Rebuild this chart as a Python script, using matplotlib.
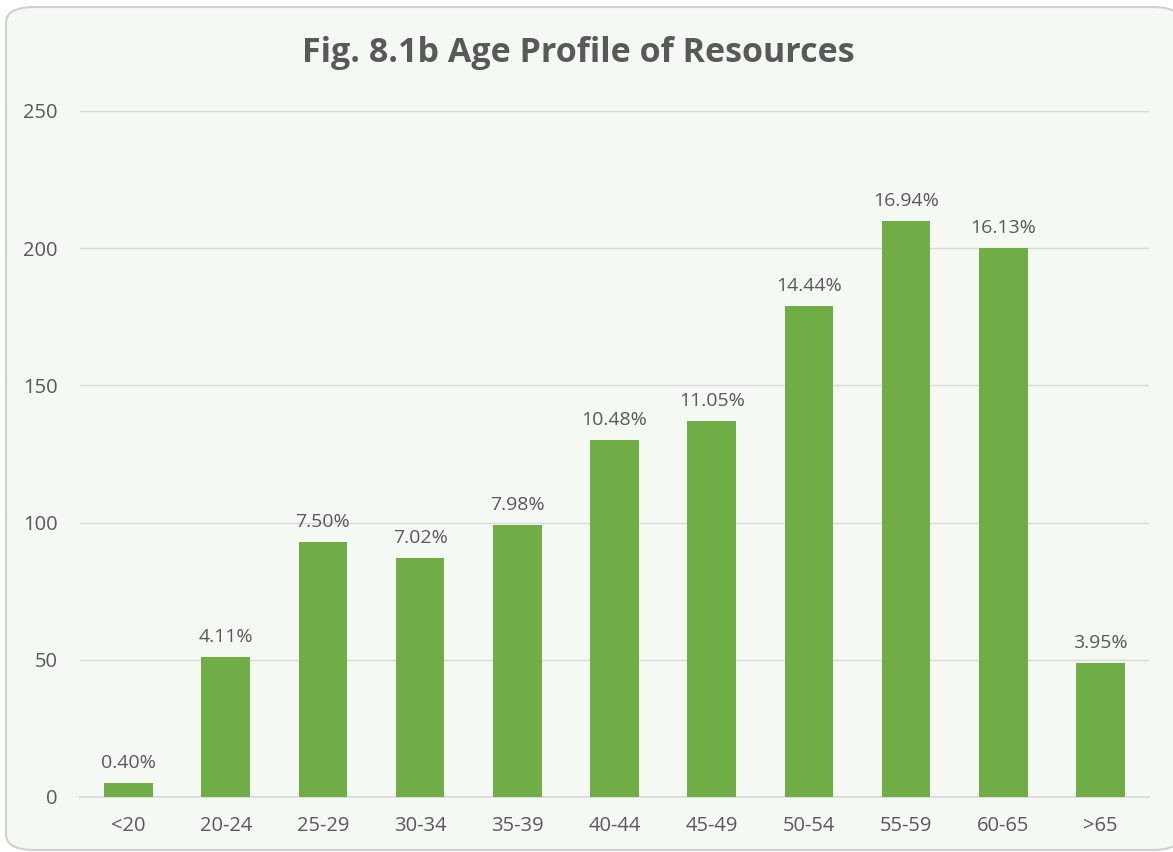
import matplotlib.pyplot as plt
from matplotlib.patches import FancyBboxPatch
import numpy as np

plt.rcParams['font.family'] = ['Open Sans', 'DejaVu Sans']

age_groups = ['<20', '20-24', '25-29', '30-34', '35-39', '40-44', '45-49',
              '50-54', '55-59', '60-65', '>65']
counts = [5, 51, 93, 87, 99, 130, 137, 179, 210, 200, 49]
pct_labels = ['0.40%', '4.11%', '7.50%', '7.02%', '7.98%', '10.48%', '11.05%',
              '14.44%', '16.94%', '16.13%', '3.95%']
yticks = [0, 50, 100, 150, 200, 250]

bg = '#F4F9F3'
green = '#70AD47'
text_col = '#595959'

fig = plt.figure(figsize=(11.73, 8.52), dpi=100)
fig.patch.set_facecolor('white')

# rounded chart frame
frame = FancyBboxPatch((6 / 1173, 2 / 852), 1175 / 1173, 843 / 852,
                       boxstyle='round,pad=0,rounding_size=0.025',
                       transform=fig.transFigure, facecolor=bg,
                       edgecolor='#D0D0D0', linewidth=1.5,
                       mutation_aspect=852 / 1173, zorder=-5)
fig.patches.append(frame)

ax = fig.add_axes([80 / 1173, 1 - 797 / 852, 1069 / 1173, 686 / 852])
ax.set_facecolor('none')
ax.set_zorder(2)

x = np.arange(len(age_groups))
bars = ax.bar(x, counts, width=0.5, color=green, zorder=3)

for xi, c, lab in zip(x, counts, pct_labels):
    ax.text(xi, c + 4, lab, ha='center', va='bottom', fontsize=14, color=text_col)

ax.set_xlim(-0.5, len(age_groups) - 0.5)
ax.set_ylim(0, 250)
ax.set_yticks(yticks)
ax.set_xticks(x)
ax.set_xticklabels(age_groups)
ax.grid(axis='y', color='#D9D9D9', linewidth=1, zorder=0)
for s in ['top', 'right', 'left']:
    ax.spines[s].set_visible(False)
ax.spines['bottom'].set_color('#D9D9D9')
ax.spines['bottom'].set_linewidth(1.2)
ax.tick_params(axis='both', length=0, labelsize=14.5, labelcolor=text_col)
ax.tick_params(axis='y', pad=16)
ax.tick_params(axis='x', pad=14)

fig.text(578 / 1173, 1 - 53 / 852, 'Fig. 8.1b Age Profile of Resources', ha='center',
         va='center', fontsize=24.5, fontweight='bold', color=text_col)

fig.savefig('out.png', dpi=100, facecolor=fig.get_facecolor())
